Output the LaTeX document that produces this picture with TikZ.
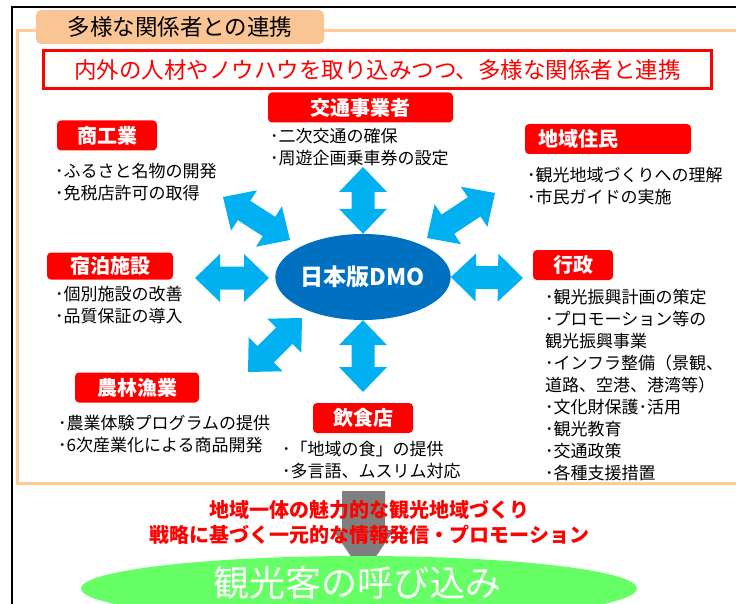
\documentclass[tikz,border=0pt]{standalone}
\usepackage{fontspec}
\setmainfont{Noto Sans CJK JP}
\usetikzlibrary{calc,shapes.geometric}

\definecolor{hubblue}{RGB}{0,112,192}
\definecolor{linkblue}{RGB}{0,176,240}
\definecolor{framepeach}{RGB}{255,204,153}
\definecolor{tabpeach}{RGB}{250,197,148}
\definecolor{guestgreen}{RGB}{102,255,102}
\definecolor{flowgray}{RGB}{127,127,127}

% double-headed block arrow between two named points
\newcommand\linkarrow[2]{%
  \fill[linkblue] (#1)
    -- ($(#1)!25pt!(#2)!24pt!90:(#2)$)
    -- ($(#1)!25pt!(#2)!11.5pt!90:(#2)$)
    -- ($(#2)!25pt!(#1)!11.5pt!-90:(#1)$)
    -- ($(#2)!25pt!(#1)!24pt!-90:(#1)$)
    -- (#2)
    -- ($(#2)!25pt!(#1)!24pt!90:(#1)$)
    -- ($(#2)!25pt!(#1)!11.5pt!90:(#1)$)
    -- ($(#1)!25pt!(#2)!11.5pt!-90:(#2)$)
    -- ($(#1)!25pt!(#2)!24pt!-90:(#2)$)
    -- cycle;}

\begin{document}
\begin{tikzpicture}[x=1pt, y=-1pt,
    tag/.style={fill=red, rounded corners=4pt, text=white, inner sep=0pt,
      minimum height=30, font=\fontsize{20}{20}\selectfont\bfseries},
    items/.style={anchor=west, align=left, inner sep=0pt,
      font=\fontsize{17}{22}\selectfont},
    hub/.style={ellipse, fill=hubblue, text=white, inner sep=0pt,
      minimum width=170, minimum height=86, font=\fontsize{23}{23}\selectfont\bfseries},
    slogan/.style={align=center, inner sep=0pt, text=red,
      font=\fontsize{20}{25}\selectfont\bfseries},
  ]
  \useasboundingbox (0,0) rectangle (736,604);
  \clip (0,0) rectangle (736,604);
  \fill[white] (0,0) rectangle (736,604);

  % frames
  \draw[framepeach, line width=3pt] (17,31) rectangle (760,483);
  \draw[line width=1.8pt] (12,620) -- (12,7) -- (760,7);
  \node[fill=tabpeach, rounded corners=5pt, minimum width=288, minimum height=34,
    inner sep=0pt, font=\fontsize{22.5}{22.5}\selectfont] (title) at (180,27)
    {多様な関係者との連携};
  \node[draw=red, line width=3pt, text=red, minimum width=668, minimum height=38,
    inner sep=0pt, font=\fontsize{22.5}{22.5}\selectfont] (aim) at (377.5,69.5)
    {内外の人材やノウハウを取り込みつつ、多様な関係者と連携};

  % hub and links
  \node[hub] (hub) at (363,277) {日本版DMO};
  \coordinate (up-a) at (363,167);
  \coordinate (dn-b) at (363,392);
  \coordinate (lt-a) at (195,278);
  \coordinate (lt-b) at (269,278);
  \coordinate (rt-b) at (523,278);
  \coordinate (ul-a) at (223,197);
  \coordinate (ul-b) at (290,240);
  \coordinate (ur-a) at (427,238);
  \coordinate (ur-b) at (495,193);
  \coordinate (ll-a) at (248,372);
  \coordinate (ll-b) at (302,318);
  \linkarrow{up-a}{hub.north}
  \linkarrow{hub.south}{dn-b}
  \linkarrow{lt-a}{lt-b}
  \linkarrow{hub.east}{rt-b}
  \linkarrow{ul-a}{ul-b}
  \linkarrow{ur-a}{ur-b}
  \linkarrow{ll-a}{ll-b}

  % partners
  \node[tag, minimum width=185] (kotsu) at (360.5,107.5) {交通事業者};
  \node[items] (kotsu-list) at (270,147.5) {･二次交通の確保\\･周遊企画乗車券の設定};
  \node[tag, minimum width=100] (shoko) at (107,135.5) {商工業};
  \node[items] (shoko-list) at (55,182.5) {･ふるさと名物の開発\\･免税店許可の取得};
  \node[tag, minimum width=166, text width=140, inner xsep=13pt, align=left]
    (jumin) at (608,139) {地域住民};
  \node[items] (jumin-list) at (527,186) {･観光地域づくりへの理解\\･市民ガイドの実施};
  \node[tag, minimum width=126, minimum height=27] (shukuhaku) at (110,266) {宿泊施設};
  \node[items] (shukuhaku-list) at (55,305) {･個別施設の改善\\･品質保証の導入};
  \node[tag, minimum width=80] (gyosei) at (573,265) {行政};
  \node[items] (gyosei-list) at (545,385.5)
    {･観光振興計画の策定\\･プロモーション等の\\観光振興事業\\･インフラ整備（景観、\\
     道路、空港、港湾等）\\･文化財保護･活用\\･観光教育\\･交通政策\\･各種支援措置};
  \node[tag, minimum width=124] (norin) at (137,387.5) {農林漁業};
  \node[items] (norin-list) at (58,434) {･農業体験プログラムの提供\\･6次産業化による商品開発};
  \node[tag, minimum width=100] (inshoku) at (363,418) {飲食店};
  \node[items] (inshoku-list) at (282,460) {･「地域の食」の提供\\･多言語、ムスリム対応};

  % outcome
  \coordinate (flow-top) at (363.5,491);
  \fill[flowgray] (flow-top) ++(-21.5,0) -- ++(43,0) -- ++(0,39) -- ++(9,0)
    -- (363.5,575) -- (333,530) -- (342,530) -- cycle;
  \node[slogan] (slogan) at (369.5,522.5)
    {地域一体の魅力的な観光地域づくり\\戦略に基づく一元的な情報発信・プロモーション};
  \node[ellipse, fill=guestgreen, minimum width=556, minimum height=65, inner sep=0pt]
    (guests) at (359,588.5) {};
  \node[text=white, inner sep=0pt, font=\fontsize{36}{36}\selectfont]
    (guests-text) at (357,583) {観光客の呼び込み};
\end{tikzpicture}
\end{document}
